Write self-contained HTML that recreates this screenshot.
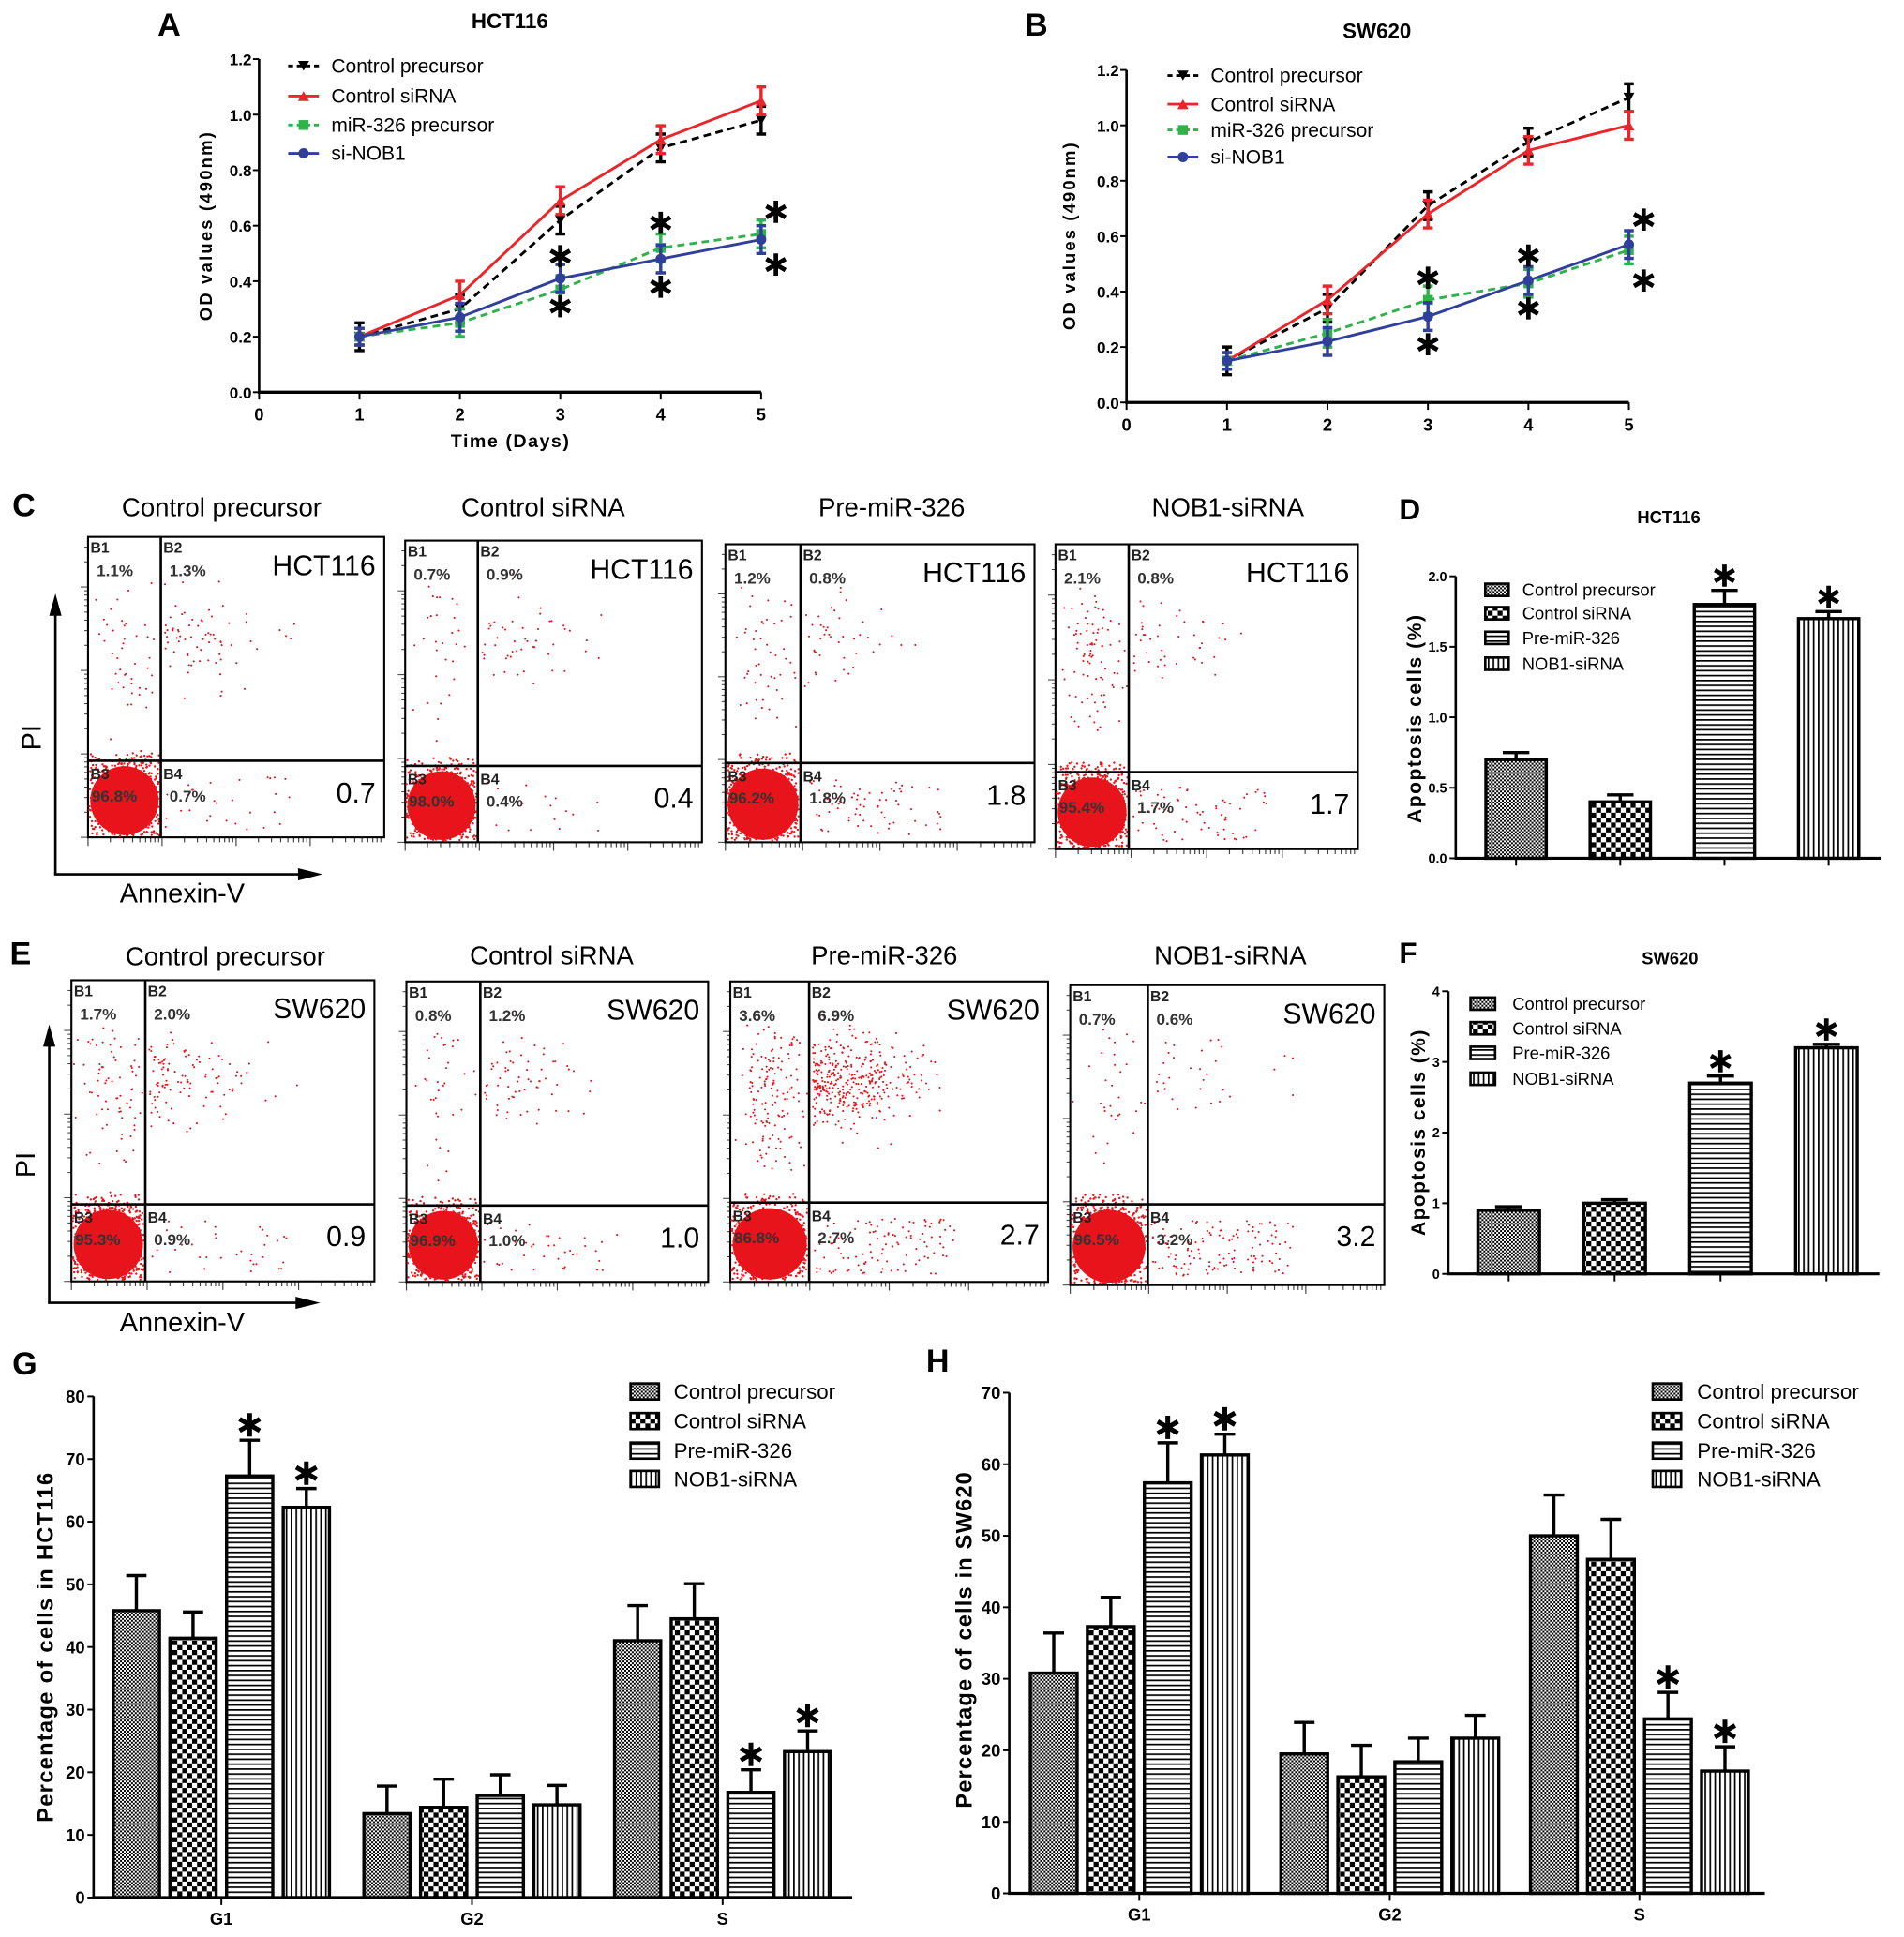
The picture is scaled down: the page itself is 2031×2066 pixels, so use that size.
<!DOCTYPE html>
<html><head><meta charset="utf-8"><title>miR-326 / NOB1 figure</title>
<style>
html,body{margin:0;padding:0;background:#fff;}
svg{display:block;font-family:"Liberation Sans",Arial,sans-serif;}
.b{font-weight:bold;}
</style></head>
<body>
<svg id="fig" xmlns="http://www.w3.org/2000/svg" width="2031" height="2066" viewBox="0 0 1546 1573" preserveAspectRatio="none">
<defs>
<pattern id="pat1" patternUnits="userSpaceOnUse" width="3" height="3"><rect width="3" height="3" fill="#fff"/><rect width="1.5" height="1.5" fill="#000"/><rect x="1.5" y="1.5" width="1.5" height="1.5" fill="#000"/></pattern>
<pattern id="pat2" patternUnits="userSpaceOnUse" width="8" height="8"><rect width="8" height="8" fill="#fff"/><rect width="4" height="4" fill="#000"/><rect x="4" y="4" width="4" height="4" fill="#000"/></pattern>
<pattern id="pat3" patternUnits="userSpaceOnUse" width="4" height="4"><rect width="4" height="4" fill="#fff"/><rect width="4" height="1.3" fill="#000"/></pattern>
<pattern id="pat4" patternUnits="userSpaceOnUse" width="4" height="4"><rect width="4" height="4" fill="#fff"/><rect width="1.3" height="4" fill="#000"/></pattern>
</defs>
<rect width="1546" height="1573" fill="#fff"/>

<text x="128" y="29" class="b" font-size="26">A</text>
<text x="414" y="23" class="b" font-size="17" text-anchor="middle">HCT116</text>
<text transform="translate(172,184) rotate(-90)" class="b" font-size="14" text-anchor="middle" textLength="153">OD values (490nm)</text>
<text x="414" y="363" class="b" font-size="15" text-anchor="middle" textLength="96">Time (Days)</text>

<text x="832" y="29" class="b" font-size="26">B</text>
<text x="1118" y="31" class="b" font-size="17" text-anchor="middle">SW620</text>
<text transform="translate(873,192) rotate(-90)" class="b" font-size="14" text-anchor="middle" textLength="152">OD values (490nm)</text>

<text x="10" y="419" class="b" font-size="26">C</text>
<text x="1136" y="422" class="b" font-size="24">D</text>
<text x="1355" y="425" class="b" font-size="14" text-anchor="middle">HCT116</text>
<text transform="translate(1154,584) rotate(-90)" class="b" font-size="16" text-anchor="middle" textLength="169">Apoptosis cells (%)</text>

<text x="8" y="783" class="b" font-size="26">E</text>
<text x="1136" y="782" class="b" font-size="24">F</text>
<text x="1356" y="783" class="b" font-size="14" text-anchor="middle">SW620</text>
<text transform="translate(1157,920) rotate(-90)" class="b" font-size="16" text-anchor="middle" textLength="167">Apoptosis cells (%)</text>

<text x="10" y="1116" class="b" font-size="26">G</text>
<text transform="translate(43,1338) rotate(-90)" class="b" font-size="18" text-anchor="middle" textLength="284">Percentage of cells in HCT116</text>
<text x="752" y="1114" class="b" font-size="26">H</text>
<text transform="translate(789,1332) rotate(-90)" class="b" font-size="18" text-anchor="middle" textLength="273">Percentage of cells in SW620</text>

<g font-size="21" text-anchor="middle">
<text x="180" y="419">Control precursor</text>
<text x="441" y="419">Control siRNA</text>
<text x="724" y="419">Pre-miR-326</text>
<text x="997" y="419">NOB1-siRNA</text>
<text x="183" y="784">Control precursor</text>
<text x="448" y="783">Control siRNA</text>
<text x="718" y="783">Pre-miR-326</text>
<text x="999" y="783">NOB1-siRNA</text>
</g>
<g stroke="#000" stroke-width="2" fill="#000">
<line x1="45" y1="710" x2="45" y2="492"/>
<polygon points="45,482 40,500 50,500" stroke="none"/>
<line x1="44" y1="710" x2="250" y2="710"/>
<polygon points="262,710 242,705 242,715" stroke="none"/>
<line x1="40" y1="1058" x2="40" y2="842"/>
<polygon points="40,832 35,850 45,850" stroke="none"/>
<line x1="39" y1="1058" x2="248" y2="1058"/>
<polygon points="260,1058 240,1053 240,1063" stroke="none"/>
</g>
<text transform="translate(33,599) rotate(-90)" font-size="22" text-anchor="middle">PI</text>
<text x="148" y="733" font-size="22" text-anchor="middle">Annexin-V</text>
<text transform="translate(28,946) rotate(-90)" font-size="22" text-anchor="middle">PI</text>
<text x="148" y="1081" font-size="22" text-anchor="middle">Annexin-V</text>

<g id="layer"></g>
</svg>
<script>
const days = [1, 2, 3, 4, 5];
const aCtrlPre  = [0.20, 0.30, 0.62, 0.88, 0.98];
const aCtrlSi   = [0.20, 0.35, 0.69, 0.91, 1.05];
const aMir      = [0.20, 0.25, 0.37, 0.52, 0.57];
const aNob      = [0.20, 0.27, 0.41, 0.48, 0.55];
const aCtrlPreErr = [0.05, 0.05, 0.05, 0.05, 0.05];
const aCtrlSiErr  = [0.03, 0.05, 0.05, 0.05, 0.05];
const aMirErr     = [0.03, 0.05, 0.05, 0.05, 0.05];
const aNobErr     = [0.03, 0.05, 0.05, 0.05, 0.05];
const aStarDays = [3, 3, 4, 4, 5, 5];
const aStarVals = [0.49, 0.31, 0.61, 0.38, 0.65, 0.46];

const bCtrlPre  = [0.15, 0.34, 0.71, 0.94, 1.10];
const bCtrlSi   = [0.15, 0.37, 0.68, 0.91, 1.00];
const bMir      = [0.15, 0.25, 0.37, 0.43, 0.55];
const bNob      = [0.15, 0.22, 0.31, 0.44, 0.57];
const bCtrlPreErr = [0.05, 0.05, 0.05, 0.05, 0.05];
const bCtrlSiErr  = [0.03, 0.05, 0.05, 0.05, 0.05];
const bMirErr     = [0.03, 0.05, 0.05, 0.05, 0.05];
const bNobErr     = [0.03, 0.05, 0.05, 0.05, 0.05];
const bStarDays = [3, 3, 4, 4, 5, 5];
const bStarVals = [0.45, 0.21, 0.53, 0.34, 0.66, 0.44];

const odTicks = [0, 0.2, 0.4, 0.6, 0.8, 1.0, 1.2];
const odTickLabels = ["0.0", "0.2", "0.4", "0.6", "0.8", "1.0", "1.2"];
const dayTicks = [0, 1, 2, 3, 4, 5];
const seriesNames = ["Control precursor", "Control siRNA", "miR-326 precursor", "si-NOB1"];

const cQ1 = [1.1, 0.7, 1.2, 2.1];
const cQ2 = [1.3, 0.9, 0.8, 0.8];
const cQ3 = [96.8, 98.0, 96.2, 95.4];
const cQ4 = [0.7, 0.4, 1.8, 1.7];
const cApop = ["0.7", "0.4", "1.8", "1.7"];
const eQ1 = [1.7, 0.8, 3.6, 0.7];
const eQ2 = [2.0, 1.2, 6.9, 0.6];
const eQ3 = [95.3, 96.9, 86.8, 96.5];
const eQ4 = [0.9, 1.0, 2.7, 3.2];
const eApop = ["0.9", "1.0", "2.7", "3.2"];

const groupNames = ["Control precursor", "Control siRNA", "Pre-miR-326", "NOB1-siRNA"];
const dVals = [0.70, 0.40, 1.80, 1.70];
const dErr  = [0.05, 0.05, 0.10, 0.05];
const dStar = [false, false, true, true];
const dTicks = [0, 0.5, 1.0, 1.5, 2.0];
const dTickLabels = ["0.0", "0.5", "1.0", "1.5", "2.0"];
const fVals = [0.90, 1.00, 2.70, 3.20];
const fErr  = [0.05, 0.05, 0.10, 0.05];
const fStar = [false, false, true, true];
const fTicks = [0, 1, 2, 3, 4];
const fTickLabels = ["0", "1", "2", "3", "4"];

const phases = ["G1", "G2", "S"];
const gCtrlPre = [45.8, 13.4, 41.0];
const gCtrlSi  = [41.4, 14.4, 44.5];
const gMir     = [67.3, 16.3, 16.8];
const gNob     = [62.3, 14.8, 23.3];
const gCtrlPreErr = [5.6, 4.4, 5.6];
const gCtrlSiErr  = [4.2, 4.5, 5.6];
const gMirErr     = [5.7, 3.3, 3.6];
const gNobErr     = [3.0, 3.1, 3.3];
const gStarMir = [true, false, true];
const gStarNob = [true, false, true];
const gTicks = [0, 10, 20, 30, 40, 50, 60, 70, 80];
const hCtrlPre = [30.8, 19.5, 50.0];
const hCtrlSi  = [37.3, 16.3, 46.7];
const hMir     = [57.4, 18.4, 24.4];
const hNob     = [61.3, 21.7, 17.1];
const hCtrlPreErr = [5.6, 4.4, 5.7];
const hCtrlSiErr  = [4.1, 4.4, 5.6];
const hMirErr     = [5.6, 3.3, 3.7];
const hNobErr     = [2.9, 3.2, 3.4];
const hStarMir = [true, false, true];
const hStarNob = [true, false, true];
const hTicks = [0, 10, 20, 30, 40, 50, 60, 70];

const NS = "http://www.w3.org/2000/svg";
const layer = document.getElementById("layer");
function mk(tag, attrs, parent) {
  const e = document.createElementNS(NS, tag);
  for (const k in attrs) e.setAttribute(k, attrs[k]);
  (parent || layer).appendChild(e);
  return e;
}
function starPath(cx, cy, r, g) {
  let d = "";
  for (let k = 0; k < 3; k++) {
    const a = Math.PI / 2 + k * Math.PI / 3;
    const dx = Math.cos(a) * r, dy = Math.sin(a) * r;
    d += `M${cx - dx},${cy - dy}L${cx + dx},${cy + dy}`;
  }
  return mk("path", {d: d, stroke: "#000", "stroke-width": r * 0.4, fill: "none"}, g);
}

function lineChart(id, ax, series, errs, starD, starV, legX, legY, legRows) {
  const g = mk("g", {});
  
  
  const xS = d => ax.x0 + d * (ax.x5 - ax.x0) / 5;
  const yS = v => ax.y0 - v * (ax.y0 - ax.y12) / 1.2;
  const yAxis = mk("line", {x1: ax.x0, y1: ax.y0 + 1, x2: ax.x0, y2: ax.y12, stroke: "#000", "stroke-width": 2}, g);
  
  
  const xAxis = mk("line", {x1: ax.x0 - 1, y1: ax.y0, x2: ax.x5, y2: ax.y0, stroke: "#000", "stroke-width": 2.5}, g);
  
  
  odTicks.forEach((t, i) => {
    const tk = mk("line", {x1: ax.x0 - 5, x2: ax.x0, y1: yS(t), y2: yS(t), stroke: "#000", "stroke-width": 1.5}, g);
    
    
    const tl = mk("text", {x: ax.x0 - 6, y: yS(t) + 5, "font-size": 13, "font-weight": "bold", "text-anchor": "end"}, g);
    
    
    tl.textContent = odTickLabels[i];
  });
  dayTicks.forEach(d => {
    const tk = mk("line", {x1: xS(d), x2: xS(d), y1: ax.y0, y2: ax.y0 + 6, stroke: "#000", "stroke-width": 1.5}, g);
    
    
    const tl = mk("text", {x: xS(d), y: ax.y0 + 23, "font-size": 14, "font-weight": "bold", "text-anchor": "middle"}, g);
    
    
    tl.textContent = String(d);
  });
  series.forEach((s, si) => {
    const pts = days.map((d, i) => xS(d) + "," + yS(s.vals[i])).join(" ");
    const pl = mk("polyline", {points: pts, fill: "none", stroke: s.color, "stroke-width": 2.2, "stroke-dasharray": s.dash}, g);
    
    
    days.forEach((d, i) => {
      const x = xS(d), yt = yS(s.vals[i] + errs[si][i]), yb = yS(s.vals[i] - errs[si][i]);
      const eb = mk("path", {d: `M${x},${yt}V${yb}M${x-4},${yt}H${x+4}M${x-4},${yb}H${x+4}`, stroke: s.color, "stroke-width": 2.6, fill: "none"}, g);
      
      
      const m = marker(s.marker, x, yS(s.vals[i]), s.color, g);
      
      
    });
  });
  starD.forEach((d, i) => {
    const st = starPath(xS(d) + (d === 5 ? 12 : 0), yS(starV[i]), 9, g);
    
    
  });
  series.forEach((s, si) => {
    const y = legRows[si];
    const ll = mk("line", {x1: legX, x2: legX + 25, y1: y, y2: y, stroke: s.color, "stroke-width": 2.2, "stroke-dasharray": s.dash ? "4,3" : ""}, g);
    
    
    const lm = marker(s.marker, legX + 12.5, y, s.color, g);
    
    
    const lt = mk("text", {x: legX + 35, y: y + 5.5, "font-size": 16}, g);
    
    
    lt.textContent = seriesNames[si];
  });
}
function marker(type, x, y, c, g) {
  if (type === "down") return mk("polygon", {points: `${x-4.5},${y-4} ${x+4.5},${y-4} ${x},${y+4}`, fill: c}, g);
  if (type === "up") return mk("polygon", {points: `${x-4.5},${y+4} ${x+4.5},${y+4} ${x},${y-4}`, fill: c}, g);
  if (type === "sq") return mk("rect", {x: x - 4, y: y - 4, width: 8, height: 8, fill: c}, g);
  return mk("circle", {cx: x, cy: y, r: 4.2, fill: c}, g);
}
const RED = "#e8262b", GREEN = "#2fb24a", BLUE = "#2f3f9a";
lineChart("a", {x0: 210.4, x5: 618, y0: 318.5, y12: 48},
  [{key: "control-precursor", vals: aCtrlPre, color: "#000", dash: "6,4", marker: "down"},
   {key: "control-sirna", vals: aCtrlSi, color: RED, dash: "", marker: "up"},
   {key: "mir-326-precursor", vals: aMir, color: GREEN, dash: "6,4", marker: "sq"},
   {key: "si-nob1", vals: aNob, color: BLUE, dash: "", marker: "circle"}],
  [aCtrlPreErr, aCtrlSiErr, aMirErr, aNobErr], aStarDays, aStarVals, 234, 0, [53.5, 78, 101.5, 124.5]);
lineChart("b", {x0: 914.7, x5: 1322.6, y0: 326.8, y12: 56.8},
  [{key: "control-precursor", vals: bCtrlPre, color: "#000", dash: "6,4", marker: "down"},
   {key: "control-sirna", vals: bCtrlSi, color: RED, dash: "", marker: "up"},
   {key: "mir-326-precursor", vals: bMir, color: GREEN, dash: "6,4", marker: "sq"},
   {key: "si-nob1", vals: bNob, color: BLUE, dash: "", marker: "circle"}],
  [bCtrlPreErr, bCtrlSiErr, bMirErr, bNobErr], bStarDays, bStarVals, 948, 0, [61.3, 84.6, 105.5, 127.5]);

let seed = 12345;
function rnd() { seed = (seed * 1103515245 + 12345) % 2147483648; return seed / 2147483648; }
function gauss() { let u = rnd() || 1e-6, v = rnd(); return Math.sqrt(-2 * Math.log(u)) * Math.cos(2 * Math.PI * v); }
const flowBoxes = {
  c: [{l: 71.5, r: 312, t: 436, b: 680, v: 130.6, h: 617.8},
      {l: 329, r: 570, t: 439, b: 684, v: 388, h: 622},
      {l: 589, r: 840, t: 442, b: 684, v: 650, h: 619.6},
      {l: 857, r: 1102.6, t: 442, b: 689.6, v: 916.5, h: 627}],
  e: [{l: 58, r: 304, t: 796, b: 1040.6, v: 118, h: 978},
      {l: 330, r: 575, t: 797, b: 1041, v: 390, h: 979},
      {l: 593, r: 851, t: 797, b: 1041, v: 657, h: 976.6},
      {l: 869, r: 1124, t: 800, b: 1043.6, v: 932, h: 978}]
};
function flowPanel(row, i, q1, q2, q3, q4, apop, cell) {
  const B = flowBoxes[row][i];
  const g = mk("g", {});
  
  
  for (let k = 0; k < 4; k++) {
    const dec = B.b - (B.b - B.t) * k / 3.6;
    for (let m = 1; m <= 9; m++) {
      const yy = dec - Math.log10(m) * (B.b - B.t) / 3.6;
      if (yy < B.t) break;
      const tk = mk("line", {x1: B.l - (m === 1 ? 6 : 3), x2: B.l, y1: yy, y2: yy, stroke: "#444", "stroke-width": 0.8}, g);
      
      
    }
    const dx = B.l + (B.r - B.l) * k / 4;
    for (let m = 1; m <= 9; m++) {
      const xx = dx + Math.log10(m) * (B.r - B.l) / 4;
      const tk = mk("line", {x1: xx, x2: xx, y1: B.b, y2: B.b + (m === 1 ? 7 : 4), stroke: "#444", "stroke-width": 0.9}, g);
      
      
    }
  }
  const box = mk("rect", {x: B.l, y: B.t, width: B.r - B.l, height: B.b - B.t, fill: "#fff", stroke: "#000", "stroke-width": 1.6}, g);
  
  
  const w3 = B.v - B.l, h3 = B.b - B.h, hu = B.h - B.t;
  const blob = mk("ellipse", {cx: B.l + w3 * 0.5, cy: B.h + h3 * 0.52, rx: w3 * 0.47, ry: h3 * 0.45, fill: "#e8141c"}, g);
  
  
  const dots = mk("g", {fill: "#e8141c"}, g);
  
  
  let s = "";
  const add = (x, y, r) => { s += `<circle cx="${x.toFixed(1)}" cy="${y.toFixed(1)}" r="${r}"/>`; };
  const n3 = Math.round(q3 * 12);
  for (let k = 0; k < n3; k++) {
    const x = B.l + w3 * 0.5 + gauss() * w3 * 0.32, y = B.h + h3 * 0.52 + gauss() * h3 * 0.32;
    if (x > B.l + 1 && x < B.v - 1 && y > B.h - 8 && y < B.b - 1) add(x, y, 0.9);
  }
  const n1 = Math.round(q1 * 45);
  for (let k = 0; k < n1; k++) {
    const x = B.l + w3 * (0.55 + gauss() * 0.22), y = B.t + hu * (0.5 + gauss() * 0.18);
    if (x > B.l + 2 && x < B.v - 1 && y > B.t + 35 && y < B.h) add(x, y, 0.8);
  }
  const n2 = Math.round(q2 * 55);
  for (let k = 0; k < n2; k++) {
    const x = B.v + 3 + Math.abs(gauss()) * (B.r - B.v) * 0.22, y = B.t + hu * 0.45 + gauss() * hu * 0.1;
    if (x < B.r - 2 && y > B.t && y < B.h) add(x, y, 0.8);
  }
  const n4 = Math.round(q4 * 40);
  for (let k = 0; k < n4; k++) {
    const x = B.v + 3 + rnd() * (B.r - B.v) * 0.6, y = B.h + h3 * (0.2 + rnd() * 0.7);
    add(x, y, 0.8);
  }
  dots.innerHTML = s;
  const vl = mk("line", {x1: B.v, x2: B.v, y1: B.t, y2: B.b, stroke: "#000", "stroke-width": 2}, g);
  
  
  const hl = mk("line", {x1: B.l, x2: B.r, y1: B.h, y2: B.h, stroke: "#000", "stroke-width": 2}, g);
  
  
  const labels = [["B1", B.l + 2, B.t + 13], ["B2", B.v + 2, B.t + 13], ["B3", B.l + 2, B.h + 15], ["B4", B.v + 2, B.h + 15]];
  labels.forEach(L => {
    const t = mk("text", {x: L[1], y: L[2], "font-size": 12, "font-weight": "bold", fill: "#222"}, g);
    
    
    t.textContent = L[0];
  });
  const pcts = [[q1, B.l + 7, B.t + 32], [q2, B.v + 7, B.t + 32], [q3, B.l + 3, B.h + 33], [q4, B.v + 7, B.h + 33]];
  pcts.forEach(P => {
    const t = mk("text", {x: P[1], y: P[2], "font-size": 13, "font-weight": "bold", fill: "#333"}, g);
    
    
    t.textContent = P[0].toFixed(1) + "%";
  });
  const cl = mk("text", {x: B.r - 7, y: B.t + 31, "font-size": 23, "text-anchor": "end"}, g);
  
  
  cl.textContent = cell;
  const ap = mk("text", {x: B.r - 7, y: B.h + 34, "font-size": 23, "text-anchor": "end"}, g);
  
  
  ap.textContent = apop;
}
for (let i = 0; i < 4; i++) flowPanel("c", i, cQ1[i], cQ2[i], cQ3[i], cQ4[i], cApop[i], "HCT116");
for (let i = 0; i < 4; i++) flowPanel("e", i, eQ1[i], eQ2[i], eQ3[i], eQ4[i], eApop[i], "SW620");

const pats = ["url(#pat1)", "url(#pat2)", "url(#pat3)", "url(#pat4)"];
function barAxes(id, ax, ticks, labels, fs) {
  const g = mk("g", {});
  
  
  const yS = v => ax.y0 - v * (ax.y0 - ax.yTop) / ax.max;
  const ya = mk("line", {x1: ax.x0, x2: ax.x0, y1: ax.y0 + 1, y2: ax.yTop, stroke: "#000", "stroke-width": 2}, g);
  
  
  const xa = mk("line", {x1: ax.x0 - 1, x2: ax.xEnd, y1: ax.y0, y2: ax.y0, stroke: "#000", "stroke-width": 2.4}, g);
  
  
  ticks.forEach((t, i) => {
    const tk = mk("line", {x1: ax.x0 - 5, x2: ax.x0, y1: yS(t), y2: yS(t), stroke: "#000", "stroke-width": 1.5}, g);
    
    
    const tl = mk("text", {x: ax.x0 - 7, y: yS(t) + fs * 0.36, "font-size": fs, "font-weight": "bold", "text-anchor": "end"}, g);
    
    
    tl.textContent = labels[i];
  });
  return {g, yS};
}
function drawBar(g, yS, x, w, v, e, pat, star, starR, name, y0) {
  const r = mk("rect", {x: x, y: yS(v), width: w, height: y0 - yS(v), fill: pat, stroke: "#000", "stroke-width": 2.6}, g);
  
  
  const cx = x + w / 2, yt = yS(v + e);
  const eb = mk("path", {d: `M${cx},${yS(v)}V${yt}M${cx - w * 0.22},${yt}H${cx + w * 0.22}`, stroke: "#000", "stroke-width": 2.6, fill: "none"}, g);
  
  
  if (star) {
    const st = starPath(cx, yt - starR - 3, starR, g);
    
    
  }
}
function legend(g, x, rows, sw, sh, tx, fs) {
  groupNames.forEach((n, i) => {
    const r = mk("rect", {x: x, y: rows[i] - sh / 2, width: sw, height: sh, fill: pats[i], stroke: "#000", "stroke-width": 2}, g);
    
    
    const t = mk("text", {x: tx, y: rows[i] + fs * 0.36, "font-size": fs}, g);
    
    
    t.textContent = n;
  });
}
(function () {
  const ax = {x0: 1182, xEnd: 1527, y0: 697, yTop: 468, max: 2.0};
  const {g, yS} = barAxes("d", ax, dTicks, dTickLabels, 11);
  const step = 84.6, w = 49, left = 1206.5;
  dVals.forEach((v, i) => {
    const x = left + i * step;
    drawBar(g, yS, x, w, v, dErr[i], pats[i], dStar[i], 9, 'bar-d-' + i, ax.y0);
    const tk = mk("line", {x1: x + w / 2, x2: x + w / 2, y1: ax.y0, y2: ax.y0 + 6, stroke: "#000", "stroke-width": 1.5}, g);
    
    
  });
  legend(g, 1206, [479, 498, 518, 539], 19, 10, 1236, 14);
})();
(function () {
  const ax = {x0: 1176, xEnd: 1526, y0: 1034.5, yTop: 805, max: 4};
  const {g, yS} = barAxes("f", ax, fTicks, fTickLabels, 11);
  const step = 86, w = 50, left = 1200;
  fVals.forEach((v, i) => {
    const x = left + i * step;
    drawBar(g, yS, x, w, v, fErr[i], pats[i], fStar[i], 9, 'bar-f-' + i, ax.y0);
    const tk = mk("line", {x1: x + w / 2, x2: x + w / 2, y1: ax.y0, y2: ax.y0 + 6, stroke: "#000", "stroke-width": 1.5}, g);
    
    
  });
  legend(g, 1194, [815, 835, 855, 876], 20, 10, 1228, 14);
})();
function cycleChart(id, ax, ticks, series, errs, stars, lefts, w, step, legX, legTX) {
  const {g, yS} = barAxes(id, ax, ticks, ticks.map(String), 14);
  phases.forEach((p, pi) => {
    series.forEach((s, si) => {
      const x = lefts[pi] + si * step;
      drawBar(g, yS, x, w, s[pi], errs[si][pi], pats[si], stars[si] ? stars[si][pi] : false, 9.5, 'bar-' + id + '-' + p + '-' + si, ax.y0);
    });
    const cx = lefts[pi] + (3 * step + w) / 2;
    const tk = mk("line", {x1: cx, x2: cx, y1: ax.y0, y2: ax.y0 + 6, stroke: "#000", "stroke-width": 1.5}, g);
    
    
    const tl = mk("text", {x: cx, y: ax.y0 + 22, "font-size": 14, "font-weight": "bold", "text-anchor": "middle"}, g);
    
    
    tl.textContent = p;
  });
  legend(g, legX, [1130, 1154, 1178, 1201], 23, 13, legTX, 17);
}
cycleChart("g", {x0: 76, xEnd: 692, y0: 1541, yTop: 1134, max: 80}, gTicks,
  [gCtrlPre, gCtrlSi, gMir, gNob], [gCtrlPreErr, gCtrlSiErr, gMirErr, gNobErr],
  [null, null, gStarMir, gStarNob], [92, 295.5, 499], 37.5, 46, 512, 547);
cycleChart("h", {x0: 819.5, xEnd: 1433, y0: 1537.6, yTop: 1131, max: 70}, hTicks,
  [hCtrlPre, hCtrlSi, hMir, hNob], [hCtrlPreErr, hCtrlSiErr, hMirErr, hNobErr],
  [null, null, hStarMir, hStarNob], [836.6, 1040, 1242.7], 38, 46.3, 1342, 1378);
</script>
</body></html>
